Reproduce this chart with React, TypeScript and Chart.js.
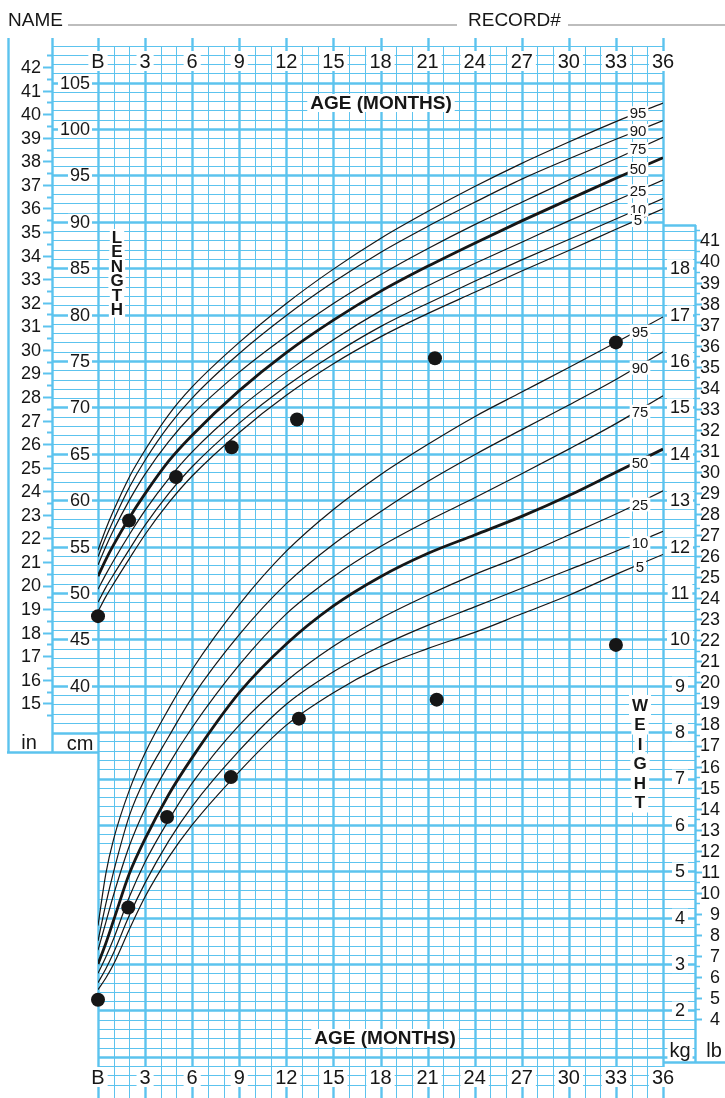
import React, { useEffect, useRef } from 'react';
import { Chart, registerables } from 'chart.js';

Chart.register(...registerables);

// ---------- DATA ----------
const ageMonths = [0, 0.5, 1, 2, 3, 4.5, 6, 9, 12, 15, 18, 21, 24, 27, 30, 33, 36];
const percentileNames = ['95', '90', '75', '50', '25', '10', '5'];

// Length-for-age percentiles (cm)
const lengthP95 = [54.6, 56.9, 58.9, 62.5, 65.4, 69.2, 72.2, 77.0, 81.2, 84.9, 88.2, 91.1, 93.8, 96.3, 98.6, 100.8, 102.8];
const lengthP90 = [53.9, 56.0, 57.9, 61.4, 64.3, 68.0, 71.0, 75.8, 79.9, 83.5, 86.7, 89.5, 92.1, 94.6, 96.8, 98.9, 100.9];
const lengthP75 = [53.0, 55.0, 56.8, 60.0, 62.8, 66.3, 69.2, 73.8, 77.7, 81.2, 84.3, 87.1, 89.7, 92.1, 94.5, 96.8, 99.1];
const lengthP50 = [51.8, 53.6, 55.2, 58.1, 60.7, 64.2, 67.0, 71.8, 75.9, 79.4, 82.5, 85.2, 87.7, 90.1, 92.4, 94.7, 96.9];
const lengthP25 = [50.4, 52.0, 53.5, 56.3, 58.9, 62.3, 65.2, 69.9, 73.8, 77.3, 80.4, 83.1, 85.5, 87.8, 90.1, 92.3, 94.5];
const lengthP10 = [49.0, 50.6, 52.0, 54.7, 57.3, 60.7, 63.6, 68.3, 72.3, 75.7, 78.7, 81.2, 83.6, 85.9, 88.1, 90.3, 92.5];
const lengthP5 = [48.0, 49.6, 51.0, 53.7, 56.3, 59.7, 62.6, 67.3, 71.3, 74.7, 77.6, 80.1, 82.4, 84.7, 86.9, 89.2, 91.4];

// Weight-for-age percentiles (kg)
const weightP95 = [3.83, 4.95, 5.7, 6.75, 7.55, 8.5, 9.35, 10.75, 11.9, 12.8, 13.55, 14.2, 14.8, 15.33, 15.86, 16.4, 16.95];
const weightP90 = [3.5, 4.3, 5.0, 6.2, 7.0, 7.9, 8.75, 10.1, 11.2, 12.05, 12.75, 13.4, 13.98, 14.52, 15.05, 15.6, 16.2];
const weightP75 = [3.3, 3.9, 4.5, 5.55, 6.35, 7.3, 8.1, 9.45, 10.55, 11.35, 12.0, 12.55, 13.05, 13.57, 14.1, 14.65, 15.25];
const weightP50 = [3.0, 3.45, 3.95, 4.95, 5.7, 6.65, 7.45, 8.85, 9.9, 10.72, 11.35, 11.85, 12.25, 12.65, 13.1, 13.6, 14.1];
const weightP25 = [2.8, 3.15, 3.55, 4.45, 5.2, 6.1, 6.9, 8.15, 9.1, 9.85, 10.45, 10.95, 11.4, 11.8, 12.25, 12.7, 13.2];
const weightP10 = [2.6, 2.9, 3.25, 4.05, 4.75, 5.65, 6.4, 7.6, 8.6, 9.3, 9.85, 10.3, 10.7, 11.1, 11.5, 11.9, 12.33];
const weightP5 = [2.45, 2.7, 3.0, 3.75, 4.45, 5.3, 6.0, 7.15, 8.15, 8.85, 9.4, 9.8, 10.15, 10.55, 10.95, 11.4, 11.83];

// Patient measurements
const lengthAges = [0, 1.98, 4.97, 8.52, 12.68, 21.47, 33.0];
const lengthValues = [47.5, 57.8, 62.5, 65.7, 68.7, 75.3, 77.0];
const weightAges = [0, 1.93, 4.4, 8.47, 12.8, 21.58, 33.0];
const weightValues = [2.23, 4.22, 6.17, 7.03, 8.29, 8.7, 9.88];

// Tick labels
const monthTickValues = [0, 3, 6, 9, 12, 15, 18, 21, 24, 27, 30, 33, 36];
const monthTickLabels = ['B', '3', '6', '9', '12', '15', '18', '21', '24', '27', '30', '33', '36'];
const inchLabels = [15, 16, 17, 18, 19, 20, 21, 22, 23, 24, 25, 26, 27, 28, 29, 30, 31, 32, 33, 34, 35, 36, 37, 38, 39, 40, 41, 42];
const cmLabels = [40, 45, 50, 55, 60, 65, 70, 75, 80, 85, 90, 95, 100, 105];
const kgLabels = [2, 3, 4, 5, 6, 7, 8, 9, 10, 11, 12, 13, 14, 15, 16, 17, 18];
const lbLabels = [4, 5, 6, 7, 8, 9, 10, 11, 12, 13, 14, 15, 16, 17, 18, 19, 20, 21, 22, 23, 24, 25, 26, 27, 28, 29, 30, 31, 32, 33, 34, 35, 36, 37, 38, 39, 40, 41];

const lengthCurves = [lengthP95, lengthP90, lengthP75, lengthP50, lengthP25, lengthP10, lengthP5];
const weightCurves = [weightP95, weightP90, weightP75, weightP50, weightP25, weightP10, weightP5];

// ---------- STYLE ----------
const FONT = '"Liberation Sans", Arial, Helvetica, sans-serif';
const GRID = '#5cc3ee';
const INK = '#161616';
const Y_MIN = -3.68;
const Y_MAX = 109.81;
const KG_PER_LB = 0.45359237;

function labelBox(ctx: CanvasRenderingContext2D, text: string, x: number, y: number, font: string, align: CanvasTextAlign, padX = 3, padY = 9) {
  ctx.font = font;
  const w = ctx.measureText(text).width;
  let left = x;
  if (align === 'center') left = x - w / 2;
  else if (align === 'right') left = x - w;
  ctx.fillStyle = '#fff';
  ctx.fillRect(left - padX, y - padY, w + padX * 2, padY * 2);
  ctx.fillStyle = INK;
  ctx.textAlign = align;
  ctx.textBaseline = 'middle';
  ctx.fillText(text, x, y + 1);
}

const decor = {
  id: 'decor',
  beforeDraw(chart: any) {
    const ctx = chart.ctx;
    ctx.save();
    ctx.fillStyle = '#fff';
    ctx.fillRect(0, 0, chart.width, chart.height);
    ctx.restore();
  },
  beforeDatasetsDraw(chart: any) {
    const ctx: CanvasRenderingContext2D = chart.ctx;
    const xs = chart.scales.x;
    const ys = chart.scales.y;
    const yw = chart.scales.yw;
    const X = (m: number) => xs.getPixelForValue(m);
    const Y = (v: number) => ys.getPixelForValue(v);
    const X0 = X(0);
    const X36 = X(36);
    ctx.save();
    ctx.strokeStyle = GRID;

    // horizontal grid
    for (let v = -3; v <= 109; v++) {
      const y = Math.round(Y(v)) + 0.5;
      const major = v % 5 === 0;
      ctx.lineWidth = major ? 2.4 : 1;
      ctx.beginPath();
      ctx.moveTo(X0, y);
      ctx.lineTo(X36, y);
      if (v >= 36) {
        ctx.moveTo(52, y);
        ctx.lineTo(X0, y);
      }
      if (y >= 226 && y <= 1061) {
        ctx.moveTo(X36, y);
        ctx.lineTo(695, y);
      }
      ctx.stroke();
    }
    // vertical grid
    for (let m = 0; m <= 36; m++) {
      const x = Math.round(X(m)) + 0.5;
      const major = m % 3 === 0;
      ctx.lineWidth = major ? 2.4 : 1;
      ctx.beginPath();
      ctx.moveTo(x, major ? 38 : 46);
      ctx.lineTo(x, 1098);
      ctx.stroke();
    }
    // panel borders
    ctx.lineWidth = 2.4;
    ctx.beginPath();
    ctx.moveTo(8.5, 38); ctx.lineTo(8.5, 752);
    ctx.moveTo(52.5, 38); ctx.lineTo(52.5, 752);
    ctx.moveTo(7, 752.5); ctx.lineTo(X0, 752.5);
    ctx.moveTo(52, 733.5); ctx.lineTo(X0, 733.5);
    ctx.moveTo(695.5, 225); ctx.lineTo(695.5, 1062);
    ctx.moveTo(X36, 225.5); ctx.lineTo(696, 225.5);
    ctx.moveTo(X36, 1062.5); ctx.lineTo(725, 1062.5);
    ctx.stroke();

    // inch ticks
    ctx.lineWidth = 2;
    for (let i = 0; i < inchLabels.length; i++) {
      const inch = inchLabels[i];
      const y = Math.round(Y(inch * 2.54)) + 0.5;
      ctx.beginPath(); ctx.moveTo(43, y); ctx.lineTo(52, y); ctx.stroke();
      const yh = Math.round(Y((inch - 0.5) * 2.54)) + 0.5;
      ctx.beginPath(); ctx.moveTo(47, yh); ctx.lineTo(52, yh); ctx.stroke();
      if (inch === 42) {
        const yt = Math.round(Y((inch + 0.5) * 2.54)) + 0.5;
        ctx.beginPath(); ctx.moveTo(47, yt); ctx.lineTo(52, yt); ctx.stroke();
      }
    }
    // lb ticks
    for (let i = 0; i < lbLabels.length; i++) {
      const lb = lbLabels[i];
      const y = Math.round(yw.getPixelForValue(lb * KG_PER_LB)) + 0.5;
      ctx.lineWidth = 2;
      ctx.beginPath(); ctx.moveTo(695, y); ctx.lineTo(702, y); ctx.stroke();
      const yh = Math.round(yw.getPixelForValue((lb + 0.5) * KG_PER_LB)) + 0.5;
      ctx.lineWidth = 1.5;
      ctx.beginPath(); ctx.moveTo(695, yh); ctx.lineTo(700, yh); ctx.stroke();
    }

    // text labels
    const f18 = `18px ${FONT}`;
    const f20 = `20px ${FONT}`;
    for (let i = 0; i < inchLabels.length; i++) {
      ctx.font = f18;
      ctx.textAlign = 'right';
      ctx.textBaseline = 'middle';
      ctx.fillStyle = INK;
      ctx.fillText(String(inchLabels[i]), 41, Y(inchLabels[i] * 2.54) + 1);
    }
    for (const c of cmLabels) labelBox(ctx, String(c), 90, Y(c), f18, 'right', 2, 8);
    for (const k of kgLabels) labelBox(ctx, String(k), 680, yw.getPixelForValue(k), f18, 'center', 3, 9);
    for (const lb of lbLabels) {
      ctx.font = f18; ctx.fillStyle = INK; ctx.textAlign = 'right'; ctx.textBaseline = 'middle';
      ctx.fillText(String(lb), 720, yw.getPixelForValue(lb * KG_PER_LB) + 1);
    }
    for (let i = 0; i < monthTickValues.length; i++) {
      labelBox(ctx, monthTickLabels[i], X(monthTickValues[i]), 61, f20, 'center', 3, 10);
      labelBox(ctx, monthTickLabels[i], X(monthTickValues[i]), 1077, f20, 'center', 3, 10);
    }
    const fb = `bold 19px ${FONT}`;
    labelBox(ctx, 'AGE (MONTHS)', 381, 103, fb, 'center', 3, 9);
    labelBox(ctx, 'AGE (MONTHS)', 385, 1038, fb, 'center', 3, 9);
    const fl = `bold 17px ${FONT}`;
    'LENGTH'.split('').forEach((ch, i) => labelBox(ctx, ch, 117, 237 + i * 14.5, fl, 'center', 2, 8));
    'WEIGHT'.split('').forEach((ch, i) => labelBox(ctx, ch, 640, 705 + i * 19.5, fl, 'center', 3, 10));
    labelBox(ctx, 'in', 29, 742, f20, 'center', 2, 8);
    labelBox(ctx, 'cm', 80, 743, f20, 'center', 2, 8);
    labelBox(ctx, 'kg', 680, 1050, f20, 'center', 2, 9);
    labelBox(ctx, 'lb', 714, 1050, f20, 'center', 2, 9);

    // header
    ctx.font = `19px ${FONT}`;
    ctx.fillStyle = INK;
    ctx.textAlign = 'left';
    ctx.textBaseline = 'alphabetic';
    ctx.fillText('NAME', 8, 26);
    ctx.fillText('RECORD#', 468, 26);
    ctx.strokeStyle = '#a8a8a8';
    ctx.lineWidth = 1.5;
    ctx.beginPath();
    ctx.moveTo(68, 25); ctx.lineTo(457, 25);
    ctx.moveTo(568, 25); ctx.lineTo(725, 25);
    ctx.stroke();
    ctx.restore();
  },
  afterDatasetsDraw(chart: any) {
    const ctx: CanvasRenderingContext2D = chart.ctx;
    const ys = chart.scales.y;
    const yw = chart.scales.yw;
    const f = `15px ${FONT}`;
    ctx.save();
    const n = ageMonths.length;
    percentileNames.forEach((name, i) => {
      const lc = lengthCurves[i];
      const lv = lc[n - 2] + 0.5 * (lc[n - 1] - lc[n - 2]);
      labelBox(ctx, name, 638, ys.getPixelForValue(lv) + 1, f, 'center', 2, 7);
      const wc = weightCurves[i];
      const wv = wc[n - 2] + 0.5 * (wc[n - 1] - wc[n - 2]);
      labelBox(ctx, name, 640, yw.getPixelForValue(wv) + 2, f, 'center', 2, 7);
    });
    ctx.restore();
  },
};

export default function App() {
  const ref = useRef<HTMLCanvasElement>(null);
  useEffect(() => {
    if (!ref.current) return;
    const datasets: any[] = [];
    datasets.push({
      label: 'Length measurements',
      data: lengthAges.map((a, i) => ({ x: a, y: lengthValues[i] })),
      showLine: false,
      pointRadius: 7,
      pointBackgroundColor: INK,
      pointBorderWidth: 0,
      yAxisID: 'y',
      order: 0,
      clip: false,
    });
    datasets.push({
      label: 'Weight measurements',
      data: weightAges.map((a, i) => ({ x: a, y: weightValues[i] })),
      showLine: false,
      pointRadius: 7,
      pointBackgroundColor: INK,
      pointBorderWidth: 0,
      yAxisID: 'yw',
      order: 0,
      clip: false,
    });
    percentileNames.forEach((name, i) => {
      datasets.push({
        label: `Length P${name}`,
        data: ageMonths.map((m, j) => ({ x: m, y: lengthCurves[i][j] })),
        borderColor: INK,
        borderWidth: name === '50' ? 2.8 : 1.2,
        pointRadius: 0,
        cubicInterpolationMode: 'monotone',
        fill: false,
        yAxisID: 'y',
        order: 1,
      });
      datasets.push({
        label: `Weight P${name}`,
        data: ageMonths.map((m, j) => ({ x: m, y: weightCurves[i][j] })),
        borderColor: INK,
        borderWidth: name === '50' ? 2.8 : 1.2,
        pointRadius: 0,
        cubicInterpolationMode: 'monotone',
        fill: false,
        yAxisID: 'yw',
        order: 1,
      });
    });
    const chart = new Chart(ref.current, {
      type: 'line',
      data: { datasets },
      options: {
        animation: false,
        responsive: false,
        events: [],
        layout: { padding: { left: 98, right: 62, top: 38, bottom: 0 } },
        plugins: { legend: { display: false }, tooltip: { enabled: false }, title: { display: false } },
        scales: {
          x: { type: 'linear', min: 0, max: 36, display: false },
          y: { type: 'linear', min: Y_MIN, max: Y_MAX, display: false },
          yw: { type: 'linear', min: (Y_MIN + 5) / 5, max: (Y_MAX + 5) / 5, display: false },
        },
      },
      plugins: [decor],
    } as any);
    return () => chart.destroy();
  }, []);
  return (
    <div style={{ position: 'fixed', left: 0, top: 0, width: 725, height: 1098, background: '#fff' }}>
      <canvas ref={ref} width={725} height={1098} style={{ display: 'block' }} />
    </div>
  );
}
